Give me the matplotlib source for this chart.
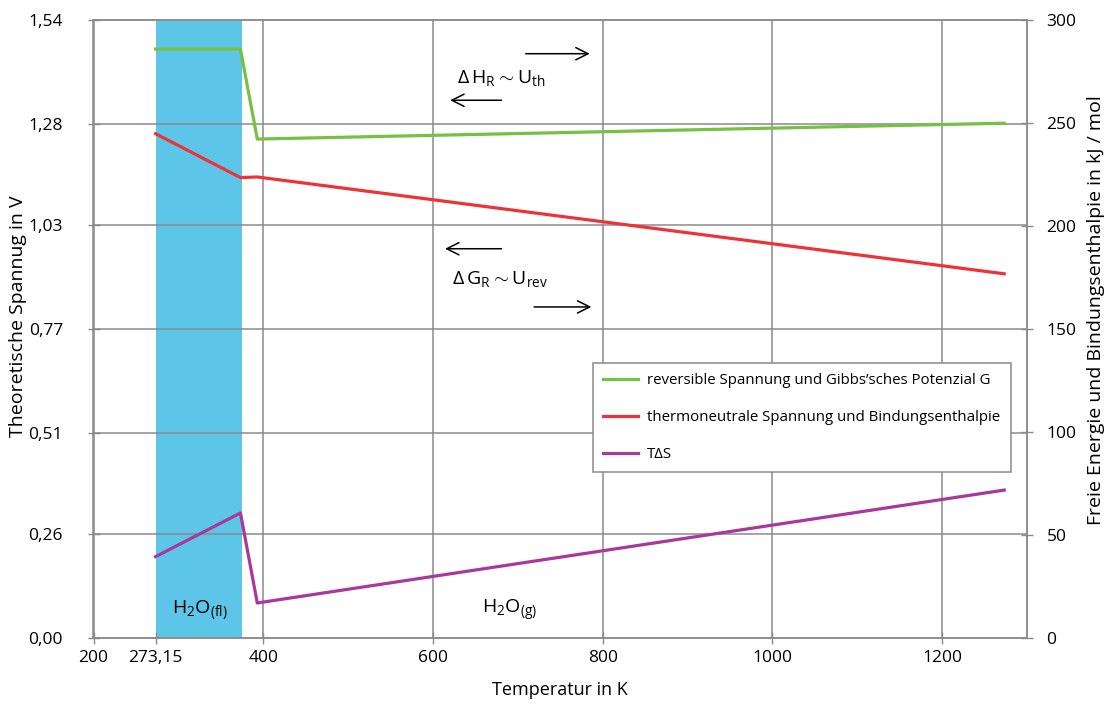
import matplotlib
matplotlib.use("Agg")
import matplotlib.pyplot as plt

plt.rcParams['font.family'] = ['Open Sans', 'DejaVu Sans']
plt.rcParams['mathtext.fontset'] = 'custom'
plt.rcParams['mathtext.rm'] = 'Open Sans'
plt.rcParams['mathtext.it'] = 'Open Sans'

# temperatures in K, energies in kJ/mol
T_G = [273.15, 373.15, 393.0, 1273.15]
G = [285.9, 285.9, 242.2, 249.9]
T_H = [273.15, 373.15, 393.0, 1273.15]
H = [244.8, 223.5, 223.8, 176.8]
T_S = [273.15, 373.15, 393.0, 1273.15]
TS = [39.5, 60.7, 17.0, 71.8]

xticks = [200, 273.15, 400, 600, 800, 1000, 1200]
xticklabels = ['200', '273,15', '400', '600', '800', '1000', '1200']
vticks = [0.0, 0.26, 0.51, 0.77, 1.03, 1.28, 1.54]
vticklabels = ['0,00', '0,26', '0,51', '0,77', '1,03', '1,28', '1,54']
kjticks = [0, 50, 100, 150, 200, 250, 300]

grid_c = '#8a8a8a'
fig = plt.figure(figsize=(11.11, 7.04), dpi=100)
ax = fig.add_axes([93.5/1111, 1-638/704, 933.5/1111, 618/704])
ax2 = ax.twinx()

ax.set_xlim(200, 1300)
ax.set_ylim(0, 1.54)
ax2.set_ylim(0, 300)

ax.axvspan(273.15, 374.5, color='#5DC6E8', zorder=0, lw=0)
for x in [400, 600, 800, 1000, 1200]:
    ax.axvline(x, color=grid_c, lw=1.1, zorder=1)
for y in vticks[1:-1]:
    ax.axhline(y, color=grid_c, lw=1.1, zorder=1)

ax2.plot(T_G, G, color='#76C043', lw=2.3, label="reversible Spannung und Gibbs\u2019sches Potenzial G")
ax2.plot(T_H, H, color='#EE3239', lw=2.3, label='thermoneutrale Spannung und Bindungsenthalpie')
ax2.plot(T_S, TS, color='#A8389C', lw=2.3, label='T\u0394S')

ax.set_xticks(xticks)
ax.set_xticklabels(xticklabels)
ax.set_yticks(vticks)
ax.set_yticklabels(vticklabels)
ax2.set_yticks(kjticks)
for a in (ax, ax2):
    a.tick_params(direction='inout', length=8, color=grid_c, labelsize=12.5, width=1)
    for s in a.spines.values():
        s.set_color(grid_c)
        s.set_linewidth(1.1)
ax.tick_params(axis='x', pad=5)
ax.tick_params(axis='y', pad=18)
ax2.tick_params(axis='y', pad=10)

ax.set_xlabel('Temperatur in K', fontsize=13)
ax.xaxis.set_label_coords(0.4997, -0.069)
ax.set_ylabel('Theoretische Spannug in V', fontsize=14)
ax.yaxis.set_label_coords(-0.071, 0.52)
ax2.set_ylabel('Freie Energie und Bindungsenthalpie in kJ / mol', fontsize=14)
ax2.yaxis.set_label_coords(1.064, 0.53)

# annotations
arr = dict(arrowstyle='->', color='black', lw=1.1, mutation_scale=22)
ax.annotate('', xy=(788, 1.456), xytext=(706, 1.456), arrowprops=arr)
ax.annotate('', xy=(617, 1.34), xytext=(684, 1.34), arrowprops=arr)
ax.text(628, 1.395, r'$\Delta\,\mathrm{H_R}\sim\mathrm{U_{th}}$', fontsize=14, va='center')
ax.annotate('', xy=(611, 0.97), xytext=(684, 0.97), arrowprops=arr)
ax.annotate('', xy=(790, 0.825), xytext=(716, 0.825), arrowprops=arr)
ax.text(622, 0.895, r'$\Delta\,\mathrm{G_R}\sim\mathrm{U_{rev}}$', fontsize=14, va='center')
ax.text(325, 0.07, r'$\mathrm{H_2O_{(fl)}}$', fontsize=14, ha='center', va='center')
ax.text(690, 0.07, r'$\mathrm{H_2O_{(g)}}$', fontsize=14, ha='center', va='center')

leg = ax2.legend(loc='upper left', bbox_to_anchor=(0.535, 0.445), fontsize=10.8,
                 frameon=True, fancybox=False, edgecolor=grid_c, framealpha=1,
                 handlelength=2.3, labelspacing=1.45, borderpad=0.7, handletextpad=0.6,
                 borderaxespad=0)
leg.get_frame().set_linewidth(1.1)

fig.savefig('out.png', dpi=100)
